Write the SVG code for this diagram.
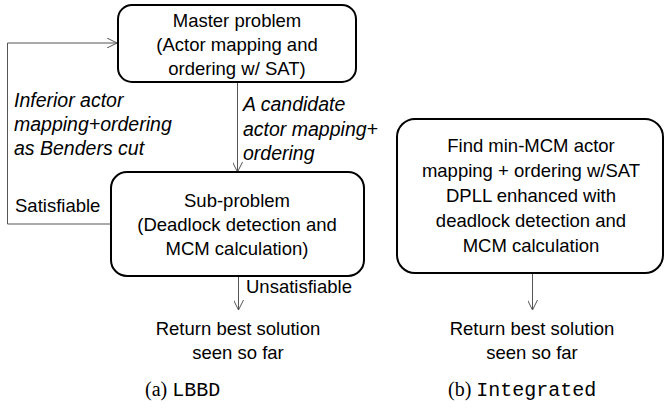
<svg xmlns="http://www.w3.org/2000/svg" width="666" height="408" viewBox="0 0 666 408">
  <defs>
    <marker id="arrow" viewBox="0 0 10 10" refX="10" refY="5" markerWidth="10" markerHeight="10" markerUnits="userSpaceOnUse" orient="auto">
      <path d="M0,0 L10,5 L0,10" fill="none" stroke="#555" stroke-width="1"/>
    </marker>
    <style>
      .box { fill: #fff; stroke: #000; stroke-width: 2; }
      .t { font-family: "Liberation Sans", "DejaVu Sans", sans-serif; font-size: 18.5px; fill: #000; }
      .c { text-anchor: middle; }
      .it { font-style: italic; font-size: 19.5px; }
      .edge { fill: none; stroke: #555; stroke-width: 1; }
      .cap { font-family: "Liberation Serif", serif; font-size: 20px; fill: #000; }
      .mono { font-family: "Liberation Mono", monospace; font-size: 20px; }
    </style>
  </defs>
  <rect width="666" height="408" fill="#fff"/>

  <!-- connectors and their labels -->
  <g id="connectors">
    <path class="edge" d="M111,224 H7.5 V43 H117" marker-end="url(#arrow)"/>
    <path class="edge" d="M237.5,82 V172" marker-end="url(#arrow)"/>
    <path class="edge" d="M238.5,276 V310" marker-end="url(#arrow)"/>
    <path class="edge" d="M532.5,273 V310" marker-end="url(#arrow)"/>
    <text class="t it" x="14" y="107">Inferior actor</text>
    <text class="t it" x="14" y="131">mapping+ordering</text>
    <text class="t it" x="14" y="155">as Benders cut</text>
    <text class="t it" x="243" y="111">A candidate</text>
    <text class="t it" x="243" y="136">actor mapping+</text>
    <text class="t it" x="243" y="160">ordering</text>
    <text class="t" x="15" y="212">Satisfiable</text>
    <text class="t" x="246" y="293">Unsatisfiable</text>
  </g>

  <!-- LBBD flow -->
  <g id="master">
    <rect class="box" x="118" y="5" width="238" height="77" rx="14"/>
    <text class="t c" x="237" y="27">Master problem</text>
    <text class="t c" x="237" y="51">(Actor mapping and</text>
    <text class="t c" x="237" y="75">ordering w/ SAT)</text>
  </g>
  <g id="subproblem">
    <rect class="box" x="111" y="172" width="253" height="104" rx="16"/>
    <text class="t c" x="237" y="207">Sub-problem</text>
    <text class="t c" x="237" y="231">(Deadlock detection and</text>
    <text class="t c" x="237" y="255">MCM calculation)</text>
  </g>
  <g id="return-a">
    <text class="t c" x="238" y="335">Return best solution</text>
    <text class="t c" x="238" y="359">seen so far</text>
  </g>
  <text class="cap" x="145" y="396">(a) <tspan class="mono">LBBD</tspan></text>

  <!-- Integrated flow -->
  <g id="integrated">
    <rect class="box" x="397" y="119" width="266" height="154" rx="18"/>
    <text class="t c" x="531" y="152">Find min-MCM actor</text>
    <text class="t c" x="531" y="177">mapping + ordering w/SAT</text>
    <text class="t c" x="531" y="202">DPLL enhanced with</text>
    <text class="t c" x="531" y="227">deadlock detection and</text>
    <text class="t c" x="531" y="252">MCM calculation</text>
  </g>
  <g id="return-b">
    <text class="t c" x="532" y="335">Return best solution</text>
    <text class="t c" x="532" y="359">seen so far</text>
  </g>
  <text class="cap" x="448" y="396">(b) <tspan class="mono">Integrated</tspan></text>
</svg>
